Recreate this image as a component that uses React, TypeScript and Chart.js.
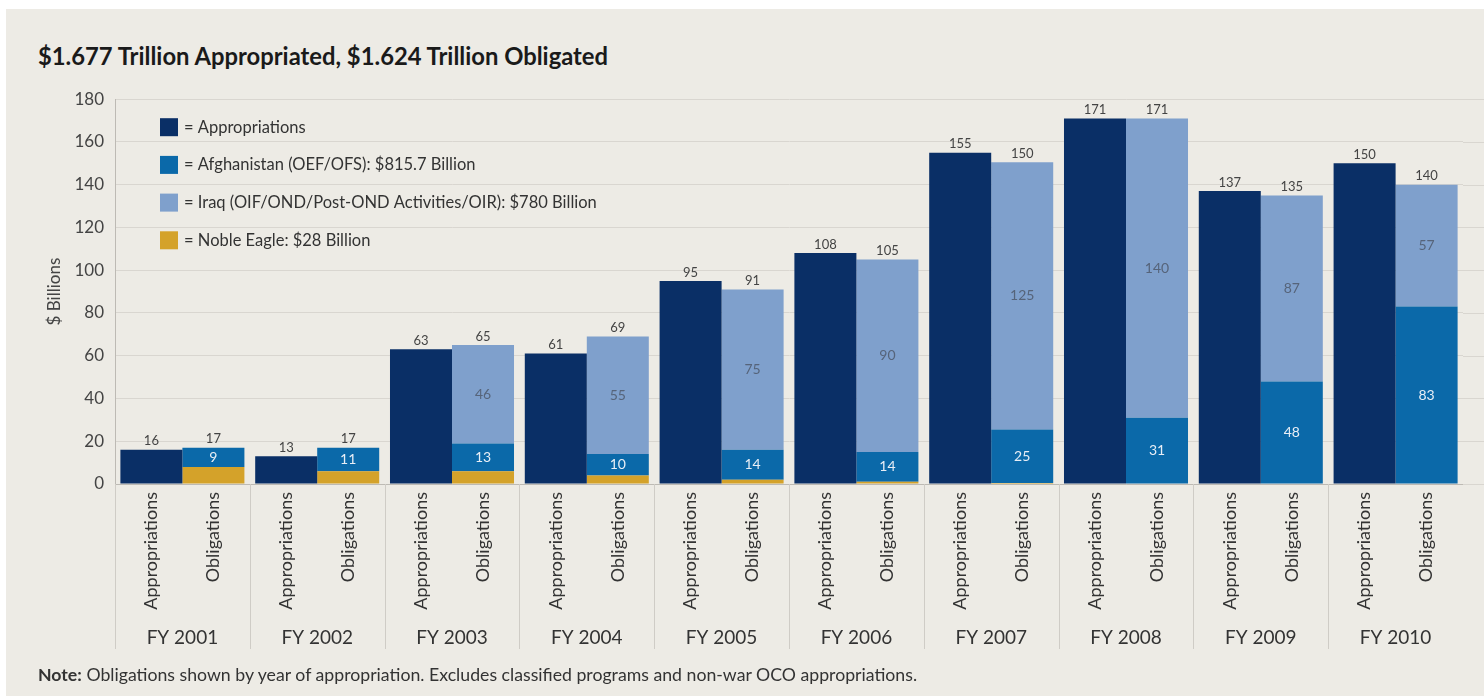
import React, { useEffect, useRef } from 'react';
import { Chart, registerables } from 'chart.js';

Chart.register(...registerables);

const years = ['FY 2001', 'FY 2002', 'FY 2003', 'FY 2004', 'FY 2005', 'FY 2006', 'FY 2007', 'FY 2008', 'FY 2009', 'FY 2010'];
const subLabels = ['Appropriations', 'Obligations'];
const appropriations = [16, 13, 63, 61, 95, 108, 155, 171, 137, 150];
const obligationTotals = [17, 17, 65, 69, 91, 105, 150, 171, 135, 140];
const afghanistan = [9, 11, 13, 10, 14, 14, 25, 31, 48, 83];
const iraq = [0, 0, 46, 55, 75, 90, 125, 140, 87, 57];
const nobleEagle = [8, 6, 6, 4, 2, 1, 0.5, 0, 0, 0];
const legendLabels = [
  'Appropriations',
  'Afghanistan (OEF/OFS): $815.7 Billion',
  'Iraq (OIF/OND/Post-OND Activities/OIR): $780 Billion',
  'Noble Eagle: $28 Billion',
];
const titleText = '$1.677 Trillion Appropriated, $1.624 Trillion Obligated';
const noteLabel = 'Note:';
const noteText = ' Obligations shown by year of appropriation. Excludes classified programs and non-war OCO appropriations.';

const NAVY = '#0a2f66';
const AFG = '#0b69a9';
const IRAQ = '#7fa0cc';
const NE = '#d4a22a';
const BG = '#edebe5';
const FONT = 'Lato, "Noto Sans", sans-serif';
const CANVAS_TOP = 78;
const CANVAS_H = 618;

const overlayPlugin = {
  id: 'overlay',
  beforeDatasetsDraw(chart: any) {
    const { ctx, chartArea, scales } = chart;
    const y = scales.y;
    ctx.save();
    ctx.strokeStyle = '#d9d6d0';
    ctx.lineWidth = 1;
    y.ticks.forEach((t: any) => {
      const py = Math.round(y.getPixelForValue(t.value)) + 0.5;
      ctx.beginPath();
      ctx.moveTo(chartArea.right, py);
      ctx.lineTo(chart.width, py);
      ctx.stroke();
    });
    ctx.restore();
  },
  afterDatasetsDraw(chart: any) {
    const { ctx, chartArea, scales } = chart;
    const x = scales.x;
    const appMeta = chart.getDatasetMeta(0);
    const neMeta = chart.getDatasetMeta(1);
    const afgMeta = chart.getDatasetMeta(2);
    const iraqMeta = chart.getDatasetMeta(3);
    ctx.save();
    // totals
    ctx.font = `13px ${FONT}`;
    ctx.fillStyle = '#444';
    ctx.textAlign = 'center';
    ctx.textBaseline = 'bottom';
    appMeta.data.forEach((bar: any, i: number) => {
      ctx.fillText(String(appropriations[i]), bar.x, bar.y - 2);
    });
    iraqMeta.data.forEach((bar: any, i: number) => {
      const top = Math.min(bar.y, afgMeta.data[i].y, neMeta.data[i].y);
      ctx.fillText(String(obligationTotals[i]), bar.x, top - 2);
    });
    // segment labels
    ctx.font = `14px ${FONT}`;
    ctx.textBaseline = 'middle';
    afgMeta.data.forEach((bar: any, i: number) => {
      if (afghanistan[i] > 0) {
        ctx.fillStyle = '#e8eef6';
        ctx.fillText(String(afghanistan[i]), bar.x, (bar.y + bar.base) / 2);
      }
    });
    iraqMeta.data.forEach((bar: any, i: number) => {
      if (iraq[i] > 0) {
        ctx.fillStyle = '#56647a';
        ctx.fillText(String(iraq[i]), bar.x, (bar.y + bar.base) / 2);
      }
    });
    // sub labels
    ctx.font = `18px ${FONT}`;
    ctx.fillStyle = '#333';
    ctx.textAlign = 'right';
    ctx.textBaseline = 'middle';
    years.forEach((_, i) => {
      [appMeta.data[i].x, iraqMeta.data[i].x].forEach((bx: number, k: number) => {
        ctx.save();
        ctx.translate(bx, chartArea.bottom + 8);
        ctx.rotate(-Math.PI / 2);
        ctx.fillText(subLabels[k], 0, 0);
        ctx.restore();
      });
    });
    // separators
    ctx.strokeStyle = '#cfccc6';
    ctx.lineWidth = 1;
    for (let i = 0; i < years.length - 1; i++) {
      const bx = Math.round((x.getPixelForTick(i) + x.getPixelForTick(i + 1)) / 2) + 0.5;
      ctx.beginPath();
      ctx.moveTo(bx, chartArea.bottom);
      ctx.lineTo(bx, chartArea.bottom + 165);
      ctx.stroke();
    }
    ctx.beginPath();
    ctx.moveTo(chartArea.left + 0.5, chartArea.bottom);
    ctx.lineTo(chartArea.left + 0.5, chartArea.bottom + 165);
    ctx.stroke();
    // legend
    const colors = [NAVY, AFG, IRAQ, NE];
    ctx.font = `16.5px ${FONT}`;
    ctx.textAlign = 'left';
    ctx.textBaseline = 'middle';
    legendLabels.forEach((lab, i) => {
      const cy = chartArea.top + 28 + i * 37.7;
      ctx.fillStyle = colors[i];
      ctx.fillRect(160, cy - 9, 18, 18);
      ctx.fillStyle = '#333';
      ctx.fillText('= ' + lab, 184, cy);
    });
    ctx.restore();
  },
};

export default function App() {
  const ref = useRef<HTMLCanvasElement | null>(null);
  useEffect(() => {
    if (!ref.current) return;
    const chart = new Chart(ref.current, {
      type: 'bar',
      data: {
        labels: years,
        datasets: [
          { label: legendLabels[0], data: appropriations, stack: 'app', backgroundColor: NAVY },
          { label: legendLabels[3], data: nobleEagle, stack: 'obl', backgroundColor: NE },
          { label: legendLabels[1], data: afghanistan, stack: 'obl', backgroundColor: AFG },
          { label: legendLabels[2], data: iraq, stack: 'obl', backgroundColor: IRAQ },
        ],
      },
      options: {
        responsive: false,
        animation: false,
        devicePixelRatio: 1,
        layout: { padding: { top: 0, right: 21, left: 0, bottom: 0 } },
        datasets: { bar: { categoryPercentage: 0.92, barPercentage: 1.0, borderWidth: 0 } },
        plugins: { legend: { display: false }, tooltip: { enabled: false }, title: { display: false } },
        scales: {
          x: {
            stacked: true,
            grid: { display: true, drawOnChartArea: false, drawTicks: true, tickLength: 142, color: 'rgba(0,0,0,0)' },
            border: { display: true, color: '#bdbab4' },
            ticks: { font: { family: FONT, size: 19 }, color: '#333', padding: 0, maxRotation: 0 },
            afterFit: (s: any) => { s.height = 212; },
          },
          y: {
            stacked: true,
            min: 0,
            max: 180,
            ticks: { stepSize: 20, font: { family: FONT, size: 17 }, color: '#444', padding: 11 },
            grid: { color: '#d9d6d0', drawTicks: false },
            border: { display: true, color: '#bdbab4' },
            title: { display: true, text: '$ Billions', font: { family: FONT, size: 17 }, color: '#444', padding: { top: 44, bottom: 0 } },
            afterFit: (s: any) => { s.width = 115; },
          },
        },
      },
      plugins: [overlayPlugin],
    });
    return () => chart.destroy();
  }, []);

  return (
    <div style={{ position: 'fixed', left: 0, top: 0, width: 1484, height: 696, background: '#fff', overflow: 'hidden' }}>
      <div style={{ position: 'absolute', left: 6, top: 9, width: 1478, height: 687, background: BG }} />
      <canvas ref={ref} width={1484} height={CANVAS_H} style={{ position: 'absolute', left: 0, top: CANVAS_TOP, width: 1484, height: CANVAS_H }} />
      <div style={{ position: 'absolute', left: 38, top: 42, fontFamily: FONT, fontWeight: 700, fontSize: 23.8, color: '#1a1a1a', whiteSpace: 'nowrap' }}>
        {titleText}
      </div>
      <div style={{ position: 'absolute', left: 38, top: 664, fontFamily: FONT, fontSize: 17.7, color: '#333', whiteSpace: 'nowrap' }}>
        <b>{noteLabel}</b>{noteText}
      </div>
    </div>
  );
}
